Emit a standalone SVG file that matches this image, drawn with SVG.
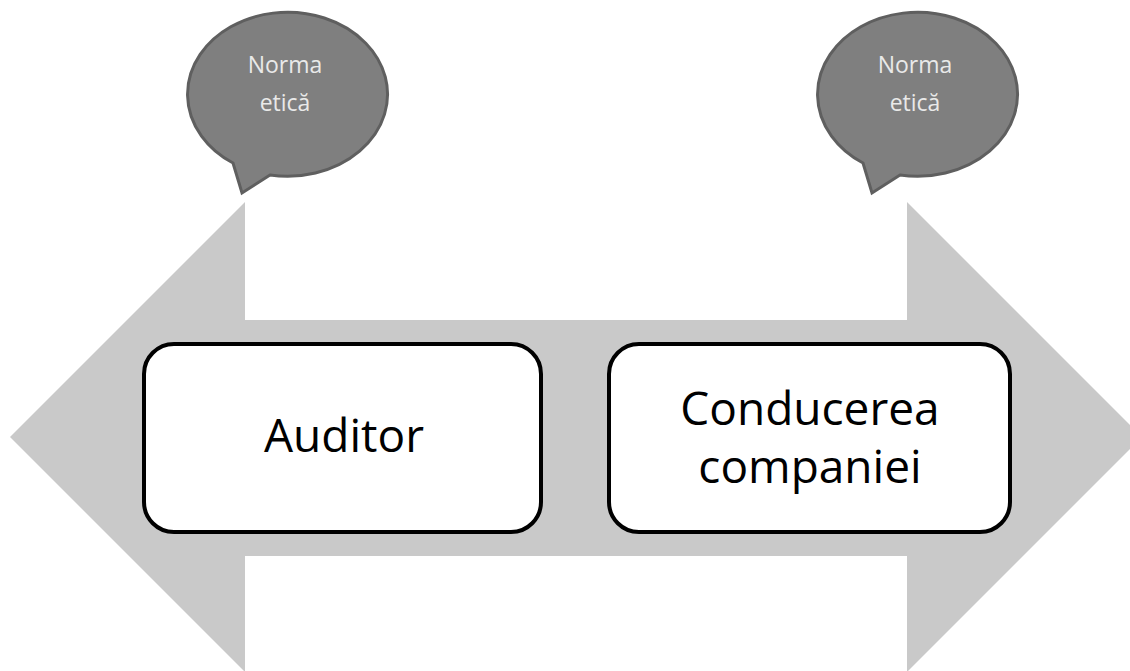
<svg xmlns="http://www.w3.org/2000/svg" width="1130" height="671" viewBox="0 0 1130 671">
  <style>
    .arrow { fill: #c9c9c9; stroke: none; }
    .bubble { fill: #7f7f7f; stroke: #5f5f5f; stroke-width: 3; stroke-linejoin: miter; }
    .btext { font-family: "Open Sans", "Noto Sans", sans-serif; font-size: 23px; fill: #e9e9e9; text-anchor: middle; }
    .box { fill: #ffffff; stroke: #000000; stroke-width: 4; }
    .label { font-family: "Open Sans", "Noto Sans", sans-serif; font-size: 46px; fill: #000000; text-anchor: middle; }
  </style>
  <rect width="1130" height="671" fill="#ffffff"/>
  <g id="connectors">
    <path class="arrow" d="M10,437 L245,202 L245,320 L907,320 L907,202 L1142,437 L907,672 L907,556 L245,556 L245,672 Z"/>
  </g>
  <g id="bubble-left">
    <path class="bubble" d="M233,163 A100,82 0 1 1 270,175 L242,193 Z"/>
    <text class="btext" x="285" y="73">Norma</text>
    <text class="btext" x="285" y="111">etică</text>
  </g>
  <g id="bubble-right">
    <path class="bubble" d="M863,163 A100,82 0 1 1 900,175 L872,193 Z"/>
    <text class="btext" x="915" y="73">Norma</text>
    <text class="btext" x="915" y="111">etică</text>
  </g>
  <g id="auditor">
    <rect class="box" x="144" y="344" width="397" height="188" rx="30" ry="30"/>
    <text class="label" x="344" y="452">Auditor</text>
  </g>
  <g id="conducerea">
    <rect class="box" x="609" y="344" width="401" height="188" rx="30" ry="30"/>
    <text class="label" x="810" y="425">Conducerea</text>
    <text class="label" x="810" y="483">companiei</text>
  </g>
</svg>
